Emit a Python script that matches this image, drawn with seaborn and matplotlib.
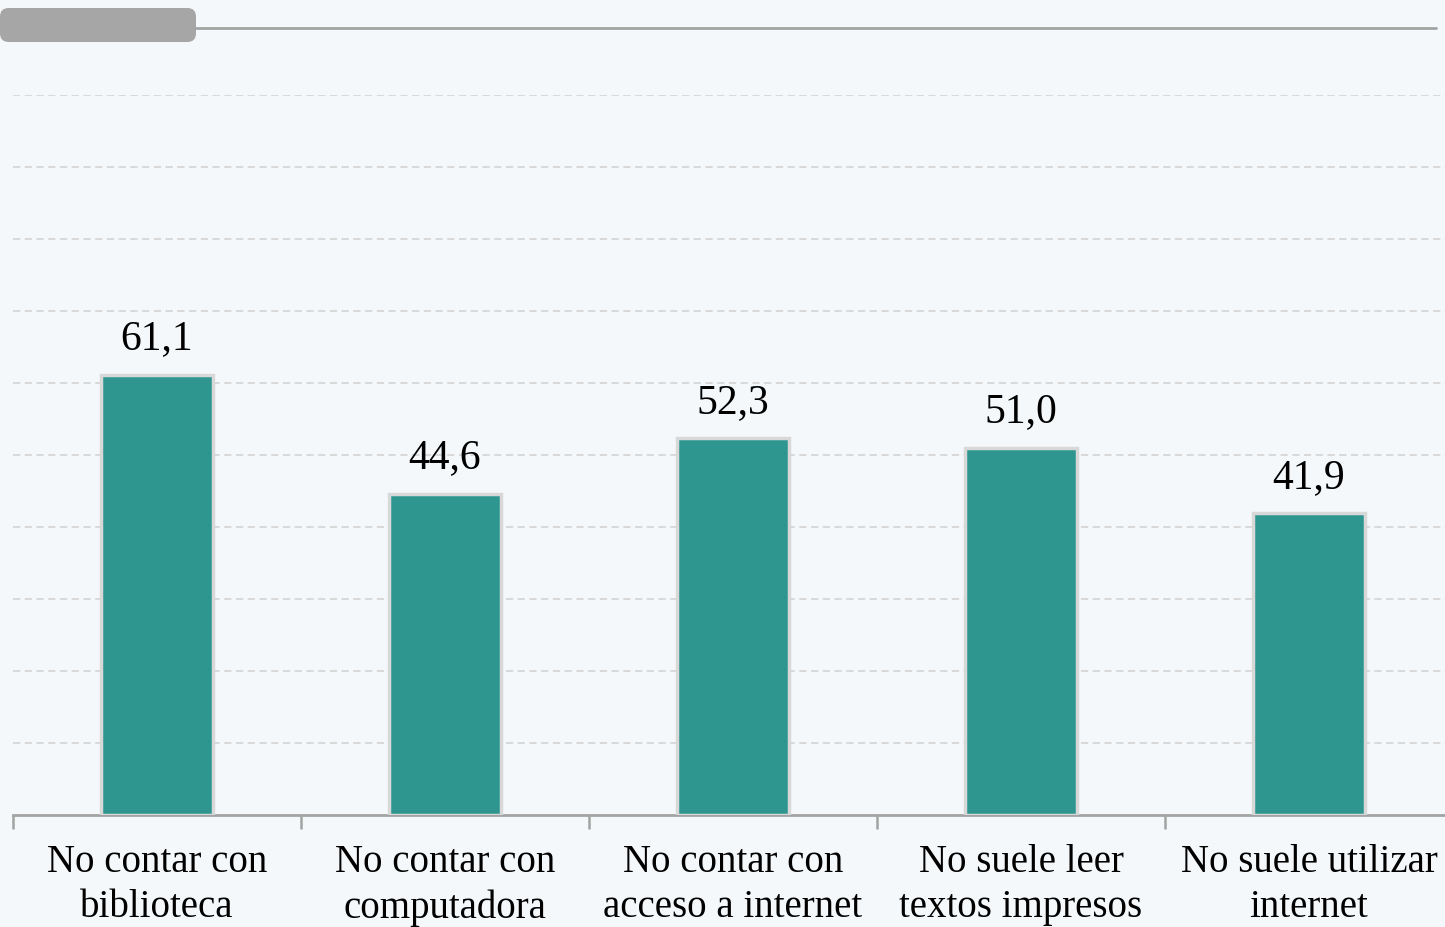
import matplotlib.pyplot as plt
import pandas as pd
import seaborn as sns
from matplotlib.patches import FancyBboxPatch
from matplotlib.lines import Line2D

# datos del grafico
categorias = ["No contar con\nbiblioteca",
              "No contar con\ncomputadora",
              "No contar con\nacceso a internet",
              "No suele leer\ntextos impresos",
              "No suele utilizar\ninternet"]
valores = [61.1, 44.6, 52.3, 51.0, 41.9]
etiquetas = ["61,1", "44,6", "52,3", "51,0", "41,9"]

FONDO = "#F5F8FA"
VERDE = "#2E968F"
GRIS = "#A3A3A3"

sns.set_theme(style="white")
plt.rcParams["font.family"] = ["Liberation Serif", "DejaVu Serif"]

df = pd.DataFrame({"categoria": categorias, "valor": valores})

fig = plt.figure(figsize=(14.45, 9.27), dpi=100, facecolor=FONDO)
W, H = 1445, 927
ax = fig.add_axes([13 / W, (H - 815) / H, 1440 / W, 720 / H])
ax.set_facecolor(FONDO)

sns.barplot(data=df, x="categoria", y="valor", color=VERDE, width=0.39,
            saturation=1, edgecolor="#D8D8D8", linewidth=2.5, ax=ax,
            zorder=3)

ax.set_ylim(0, 100)
ax.set_xlim(-0.5, 4.5)
ax.set_yticks(range(10, 101, 10))
ax.yaxis.grid(True, color="#D6D6D6", linestyle=(0, (4, 2.5)), linewidth=1.3,
              zorder=0)
ax.set_yticklabels([])
ax.tick_params(axis="y", length=0)

# marcas entre categorias
ax.set_xticks([-0.5, 0.5, 1.5, 2.5, 3.5, 4.5], minor=True)
ax.tick_params(axis="x", which="minor", bottom=True, length=10, width=1.8,
               color=GRIS, direction="out")
ax.tick_params(axis="x", which="major", length=0, pad=21, labelsize=28,
               labelcolor="black")
for lbl in ax.get_xticklabels():
    lbl.set_linespacing(1.28)

for lado in ["top", "right", "left"]:
    ax.spines[lado].set_visible(False)
ax.spines["bottom"].set_color(GRIS)
ax.spines["bottom"].set_linewidth(2)

ax.bar_label(ax.containers[0], labels=etiquetas, padding=12, fontsize=30,
             color="black")

ax.set_xlabel("")
ax.set_ylabel("")

# decoracion superior: pestana gris y linea
fig.patches.append(FancyBboxPatch((0 / W, (H - 42) / H), 196 / W, 34 / H,
                                  boxstyle="round,pad=0,rounding_size=0.006",
                                  transform=fig.transFigure,
                                  facecolor="#A6A6A6", edgecolor="none",
                                  mutation_aspect=W / H))
fig.lines.append(Line2D([196 / W, 1436 / W], [(H - 28) / H, (H - 28) / H],
                        transform=fig.transFigure, color=GRIS, linewidth=2))

fig.savefig("out.png", dpi=100, facecolor=FONDO)
